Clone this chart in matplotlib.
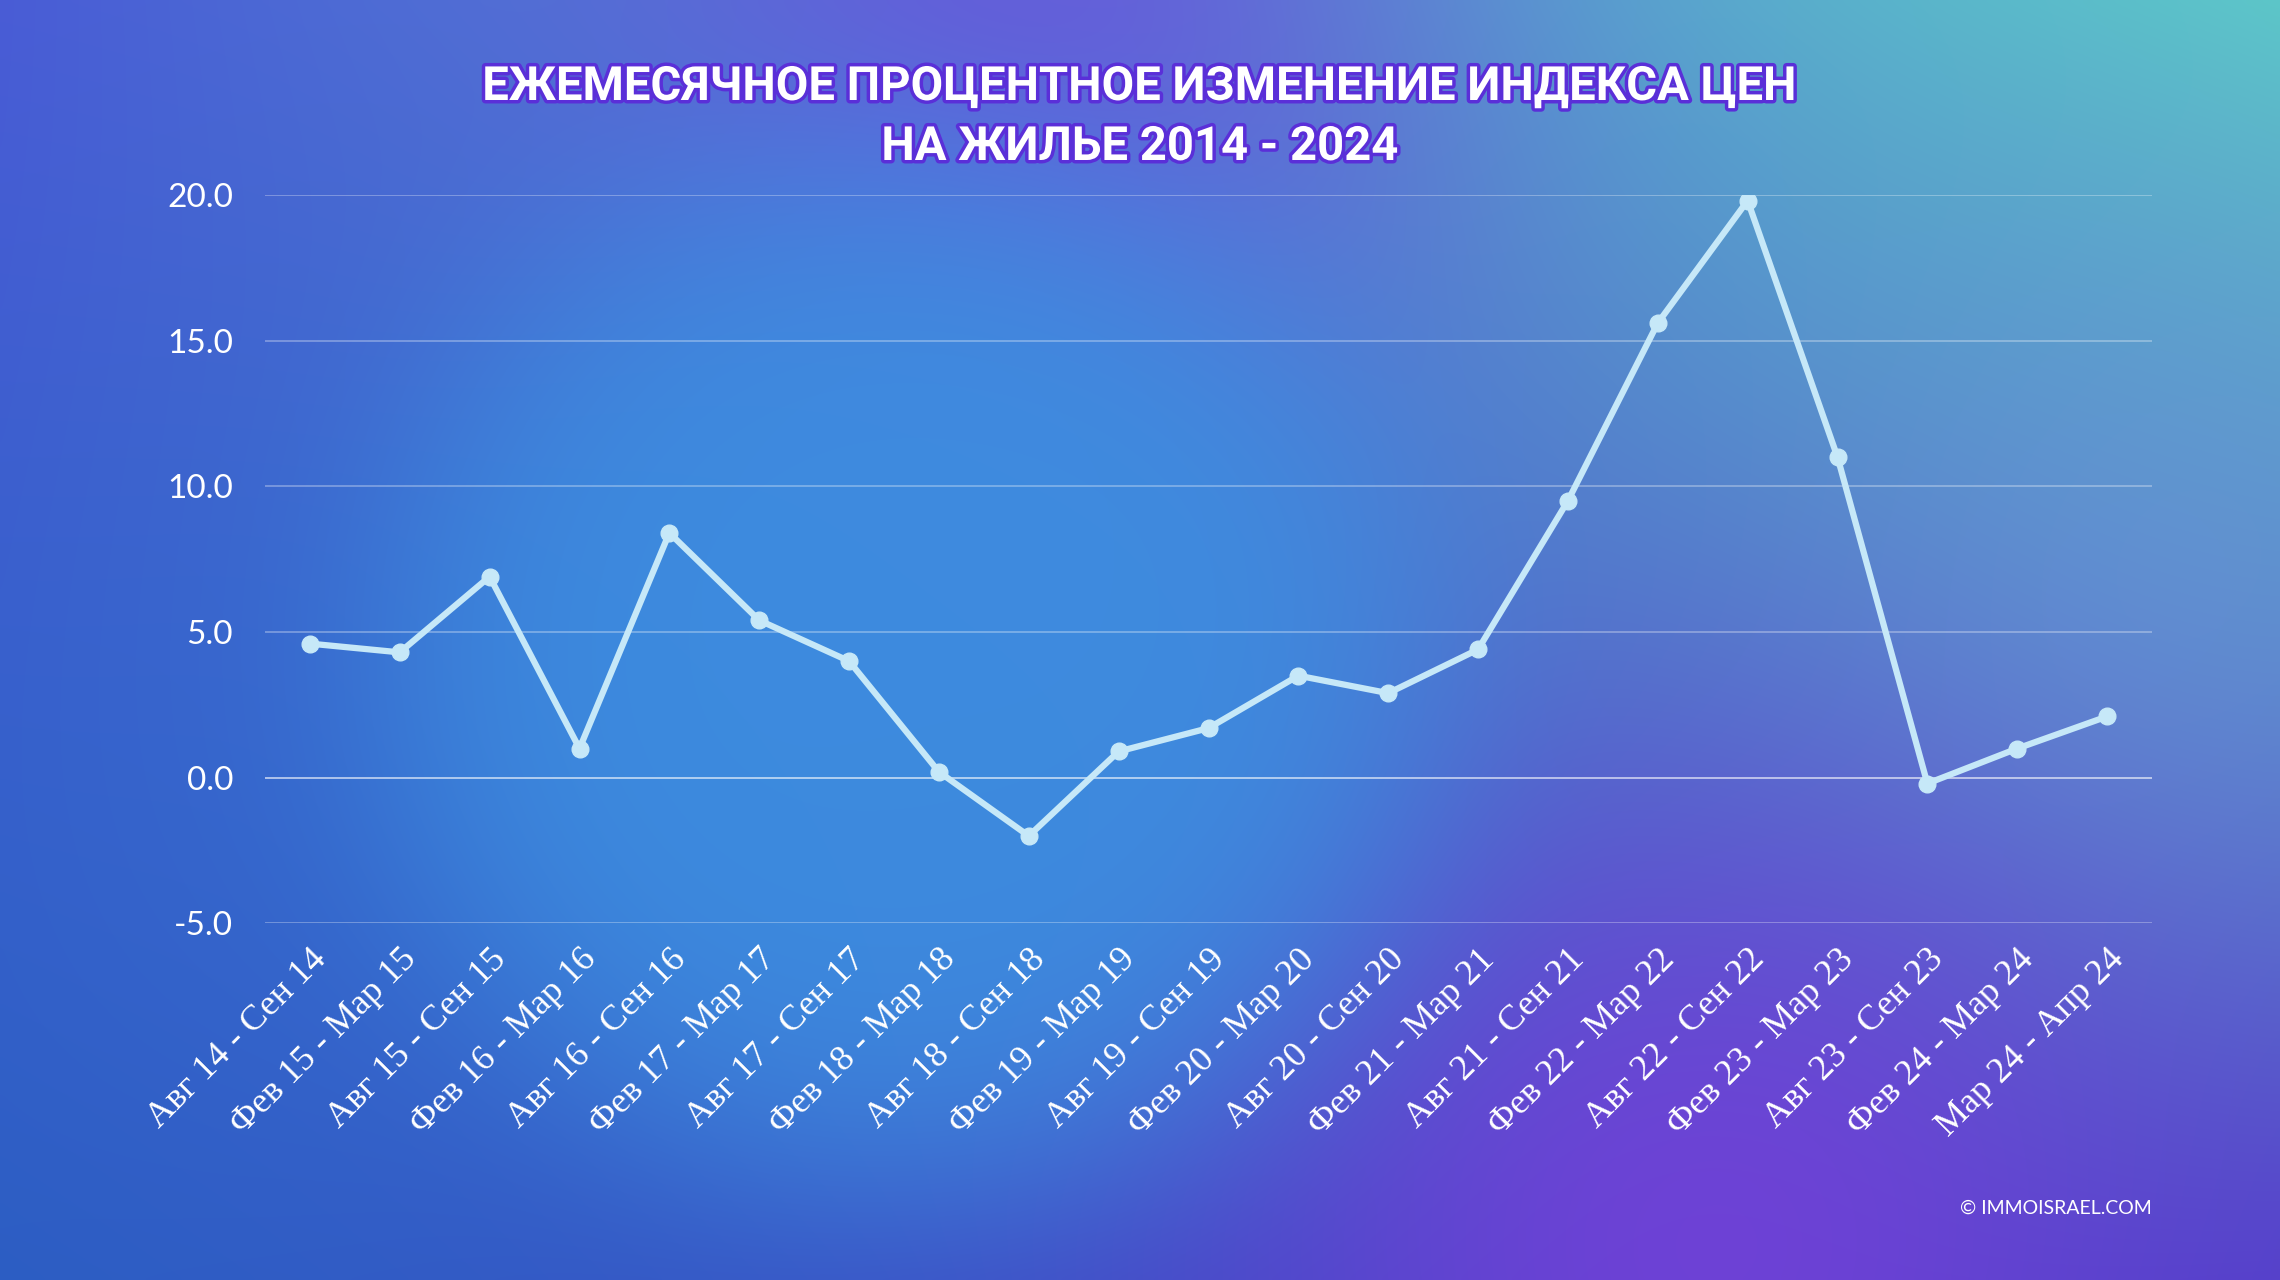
import numpy as np
import matplotlib
matplotlib.use("Agg")
import matplotlib.pyplot as plt
import matplotlib.patheffects as pe

# ---------------- data ----------------
periods = [
    "Авг 14 - Сен 14", "Фев 15 - Мар 15", "Авг 15 - Сен 15", "Фев 16 - Мар 16",
    "Авг 16 - Сен 16", "Фев 17 - Мар 17", "Авг 17 - Сен 17", "Фев 18 - Мар 18",
    "Авг 18 - Сен 18", "Фев 19 - Мар 19", "Авг 19 - Сен 19", "Фев 20 - Мар 20",
    "Авг 20 - Сен 20", "Фев 21 - Мар 21", "Авг 21 - Сен 21", "Фев 22 - Мар 22",
    "Авг 22 - Сен 22", "Фев 23 - Мар 23", "Авг 23 - Сен 23", "Фев 24 - Мар 24",
    "Мар 24 - Апр 24",
]
change_pct = [4.6, 4.3, 6.9, 1.0, 8.4, 5.4, 4.0, 0.2, -2.0, 0.9, 1.7, 3.5,
              2.9, 4.4, 9.5, 15.6, 19.8, 11.0, -0.2, 1.0, 2.1]
y_ticks = [-5, 0, 5, 10, 15, 20]
title_lines = ["ЕЖЕМЕСЯЧНОЕ ПРОЦЕНТНОЕ ИЗМЕНЕНИЕ ИНДЕКСА ЦЕН", "НА ЖИЛЬЕ 2014 - 2024"]
credit = "© IMMOISRAEL.COM"

# ---------------- figure ----------------
W, H = 2280, 1280
fig = plt.figure(figsize=(W / 100, H / 100), dpi=100)

# background gradient
h, w = 256, 456
yy, xx = np.mgrid[0:1:h * 1j, 0:1:w * 1j]
def c(hexs):
    hexs = hexs.lstrip('#')
    return np.array([int(hexs[i:i + 2], 16) for i in (0, 2, 4)], float) / 255
TL, TR, BL, BR = c('#4a5cd6'), c('#5cc8c8'), c('#2c5cc2'), c('#5040c8')
img = ((1 - xx)[..., None] * (1 - yy)[..., None] * TL + xx[..., None] * (1 - yy)[..., None] * TR
       + (1 - xx)[..., None] * yy[..., None] * BL + xx[..., None] * yy[..., None] * BR)
asp = W / H
def blob(cx, cy, rx, col, strength, power=2.0):
    global img
    d = np.sqrt(((xx - cx) * asp) ** 2 + (yy - cy) ** 2) / rx
    a = strength * np.exp(-d ** power)
    img = img * (1 - a[..., None]) + c(col) * a[..., None]
blob(0.45, 0.02, 0.35, '#6a52dc', 0.8)
blob(0.95, 0.45, 0.30, '#6a9ad8', 0.5)
blob(0.75, 0.98, 0.35, '#7440d8', 0.85)
blob(0.20, 0.60, 0.40, '#3070d0', 0.5)
blob(0.40, 0.52, 0.42, '#3d8ee0', 0.9, power=5.0)
bg = fig.add_axes([0, 0, 1, 1], zorder=-10)
bg.imshow(np.clip(img, 0, 1), aspect='auto', interpolation='bicubic', extent=[0, 1, 0, 1])
bg.set_axis_off()

# ---------------- chart ----------------
ax = fig.add_axes([265 / W, 1 - 923.4 / H, (2152 - 265) / W, (923.4 - 194.8) / H])
ax.patch.set_alpha(0)
x = np.arange(len(periods))
ax.set_xlim(-0.5, len(periods) - 0.5)
ax.set_ylim(-5, 20)
ax.set_yticks(y_ticks)
ax.set_yticklabels([f"{v:.1f}" for v in y_ticks])
for v in y_ticks:
    ax.axhline(v, color='white', alpha=0.6 if v == 0 else 0.3, lw=1.4, zorder=1)
for s in ax.spines.values():
    s.set_visible(False)
ax.tick_params(axis='both', length=0)
ax.tick_params(axis='y', pad=23, labelsize=24, labelcolor='white')
ax.tick_params(axis='x', pad=14)
for t in ax.get_yticklabels():
    t.set_fontfamily('Lato')
ax.set_xticks(x)
ax.set_xticklabels(periods, rotation=45, ha='right', va='top', rotation_mode='anchor',
                   fontsize=26, color='white', fontfamily='Liberation Serif')

ax.plot(x, change_pct, color='#c6e8f8', lw=4.5, marker='o', markersize=12,
        solid_joinstyle='round', solid_capstyle='round', zorder=3)

# ---------------- title ----------------
for txt, yc in zip(title_lines, [87, 147]):
    fig.text(0.5, 1 - yc / H, txt, ha='center', va='center', fontsize=34,
             fontweight='bold', fontfamily='Roboto', color='white',
             path_effects=[pe.withStroke(linewidth=5, foreground='#5a2fd8')])

fig.text(2152 / W, 1 - 1208 / H, credit, ha='right', va='center', fontsize=14,
         fontfamily='Lato', color='white')

fig.savefig('out.png', dpi=100)
